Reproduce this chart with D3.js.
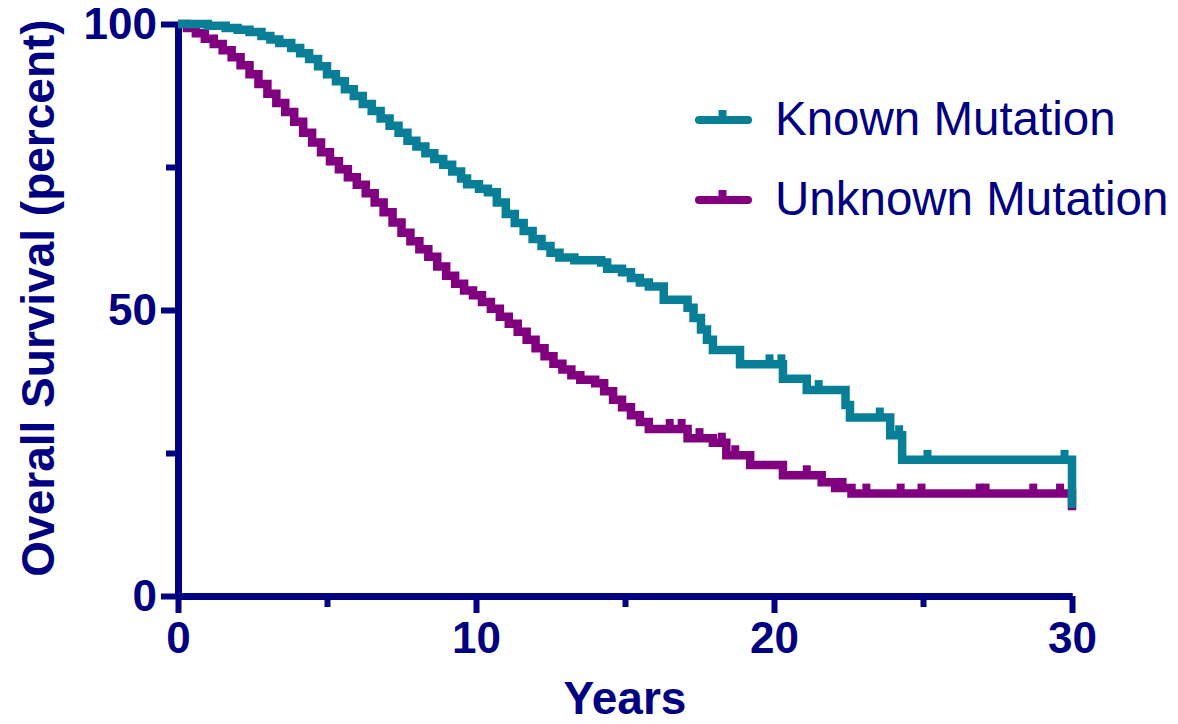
<!DOCTYPE html>
<html>
<head>
<meta charset="utf-8">
<script src="https://cdn.jsdelivr.net/npm/d3@7"></script>
<style>
	body { margin: 0; background: #fff; }
	svg { display: block; }
</style>
</head>
<body>
<svg id="chart" width="1178" height="724"></svg>
<script>
// Kaplan-Meier steps (years, percent surviving)
const knownYears = [0, 1.0, 1.6, 2.0, 2.4, 2.8, 3.1, 3.4, 3.8, 4.1, 4.4, 4.7, 5.0, 5.3, 5.6, 5.9, 6.2, 6.5, 6.8, 7.1, 7.4, 7.7, 8.0, 8.3, 8.6, 8.9, 9.2, 9.5, 9.7, 10.1, 10.4, 10.7, 11.0, 11.3, 11.6, 11.9, 12.2, 12.5, 12.8, 13.3, 14.2, 14.4, 14.9, 15.2, 15.5, 15.8, 16.3, 17.1, 17.3, 17.55, 17.75, 17.95, 18.86, 20.3, 21.1, 22.4, 22.55, 23.9, 24.3, 30];
const knownSurvival = [100, 99.7, 99.3, 99.0, 98.6, 97.9, 97.3, 96.7, 95.8, 94.9, 93.9, 92.6, 91.2, 90.0, 88.6, 87.4, 86.0, 84.8, 83.5, 82.2, 81.0, 79.6, 78.6, 77.4, 76.4, 75.4, 74.2, 73.0, 72.0, 71.2, 70.6, 68.8, 66.8, 65.2, 63.8, 62.4, 61.2, 60.0, 59.2, 58.7, 58.3, 57.2, 56.6, 55.6, 54.8, 54.1, 51.8, 50.4, 48.6, 46.6, 44.8, 43.0, 40.5, 38.0, 36.0, 33.4, 31.2, 28.1, 23.8, 15.4];

const unknownYears = [0, 0.3, 0.6, 0.9, 1.2, 1.5, 1.8, 2.1, 2.4, 2.7, 3.0, 3.3, 3.6, 3.9, 4.2, 4.5, 4.8, 5.1, 5.4, 5.7, 6.0, 6.3, 6.6, 6.9, 7.2, 7.5, 7.8, 8.1, 8.4, 8.7, 9.0, 9.3, 9.6, 9.9, 10.2, 10.5, 10.8, 11.1, 11.4, 11.7, 12.0, 12.3, 12.6, 12.9, 13.2, 13.5, 14.0, 14.3, 14.6, 14.9, 15.2, 15.5, 15.8, 17.1, 17.95, 18.4, 19.2, 20.3, 21.6, 22.05, 22.6, 30];
const unknownSurvival = [100, 99.3, 98.4, 97.4, 96.5, 95.4, 94.2, 92.8, 91.2, 89.5, 87.8, 86.2, 84.6, 82.9, 81.0, 79.3, 77.6, 76.0, 74.6, 73.2, 71.9, 70.4, 68.8, 67.1, 65.3, 63.5, 62.0, 60.6, 59.3, 57.6, 56.0, 54.6, 53.4, 52.6, 51.4, 50.2, 48.8, 47.6, 46.2, 44.8, 43.3, 41.9, 40.6, 39.6, 38.6, 37.8, 37.2, 35.8, 34.3, 33.0, 31.6, 30.4, 29.2, 27.6, 26.8, 24.6, 22.9, 21.1, 19.9, 18.9, 17.9, 15.0];

// censored observations (tick marks)
const knownCensored = [19.85, 20.25, 21.5, 23.55, 24.2, 25.15, 29.75];
const unknownCensored = [16.5, 16.9, 17.5, 18.25, 18.7, 21.1, 22.3, 23.1, 24.25, 24.95, 26.9, 27.1, 28.7, 29.6];

const xMajorTicks = [0, 10, 20, 30];
const xMinorTicks = [5, 15, 25];
const yMajorTicks = [0, 50, 100];
const yMinorTicks = [25, 75];

const seriesNames = ["Known Mutation", "Unknown Mutation"];

const navy = "#000080";
const teal = "#087f97";
const purple = "#800080";
const font = "'Liberation Sans', Arial, sans-serif";

const svg = d3.select("#chart");

const x = d3.scaleLinear().domain([0, 30]).range([178, 1072]);
const y = d3.scaleLinear().domain([0, 100]).range([596, 24]);

function styleAxis(g, width) {
	g.select(".domain").attr("stroke", navy).attr("stroke-width", width);
	g.selectAll(".tick line").attr("stroke", navy).attr("stroke-width", 6);
	g.selectAll(".tick text")
		.attr("fill", navy)
		.style("font-family", font)
		.style("font-weight", "bold")
		.style("font-size", "44px");
}

// minor ticks first, then major with labels
svg.append("g")
	.attr("transform", `translate(0,${y(0)})`)
	.call(d3.axisBottom(x).tickValues(xMinorTicks).tickSize(11).tickSizeOuter(0).tickFormat(""))
	.call(g => styleAxis(g, 7));

svg.append("g")
	.attr("transform", `translate(${x(0)},0)`)
	.call(d3.axisLeft(y).tickValues(yMinorTicks).tickSize(12).tickSizeOuter(0).tickFormat(""))
	.call(g => styleAxis(g, 7));

svg.append("g")
	.attr("transform", `translate(0,${y(0)})`)
	.call(d3.axisBottom(x).tickValues(xMajorTicks).tickSize(17).tickPadding(9).tickSizeOuter(0).tickFormat(d3.format("d")))
	.call(g => styleAxis(g, 7));

svg.append("g")
	.attr("transform", `translate(${x(0)},0)`)
	.call(d3.axisLeft(y).tickValues(yMajorTicks).tickSize(17).tickPadding(4).tickSizeOuter(0).tickFormat(d3.format("d")))
	.call(g => styleAxis(g, 7));

// axis titles
svg.append("text")
	.attr("x", 625)
	.attr("y", 714)
	.attr("text-anchor", "middle")
	.attr("fill", navy)
	.style("font-family", font)
	.style("font-weight", "bold")
	.style("font-size", "46px")
	.text("Years");

svg.append("text")
	.attr("transform", "translate(54,298) rotate(-90)")
	.attr("text-anchor", "middle")
	.attr("fill", navy)
	.style("font-family", font)
	.style("font-weight", "bold")
	.style("font-size", "46px")
	.text("Overall Survival (percent)");

const line = d3.line()
	.x(d => x(d[0]))
	.y(d => y(d[1]))
	.curve(d3.curveStepAfter);

function survivalAt(years, surv, t) {
	const i = d3.bisectRight(years, t) - 1;
	return surv[Math.max(0, i)];
}

function drawSeries(years, surv, censored, color) {
	const pts = years.map((t, i) => [t, surv[i]]);
	svg.append("path")
		.datum(pts)
		.attr("d", line)
		.attr("fill", "none")
		.attr("stroke", color)
		.attr("stroke-width", 8.5)
		.attr("stroke-linejoin", "miter");

	svg.append("g")
		.selectAll("line")
		.data(censored)
		.join("line")
		.attr("x1", d => x(d))
		.attr("x2", d => x(d))
		.attr("y1", d => y(survivalAt(years, surv, d)))
		.attr("y2", d => y(survivalAt(years, surv, d)) - 10)
		.attr("stroke", color)
		.attr("stroke-width", 8);
}

drawSeries(unknownYears, unknownSurvival, unknownCensored, purple);
drawSeries(knownYears, knownSurvival, knownCensored, teal);

// legend
const legend = svg.append("g");
[teal, purple].forEach((c, i) => {
	const ly = 120 + i * 80;
	legend.append("line")
		.attr("x1", 699).attr("x2", 748)
		.attr("y1", ly).attr("y2", ly)
		.attr("stroke", c)
		.attr("stroke-width", 8)
		.attr("stroke-linecap", "round");
	legend.append("line")
		.attr("x1", 722.5).attr("x2", 722.5)
		.attr("y1", ly).attr("y2", ly - 10)
		.attr("stroke", c)
		.attr("stroke-width", 8);
	legend.append("text")
		.attr("x", 775)
		.attr("y", ly + 15)
		.attr("fill", navy)
		.style("font-family", font)
		.style("font-size", "47.5px")
		.text(seriesNames[i]);
});
</script>
</body>
</html>
